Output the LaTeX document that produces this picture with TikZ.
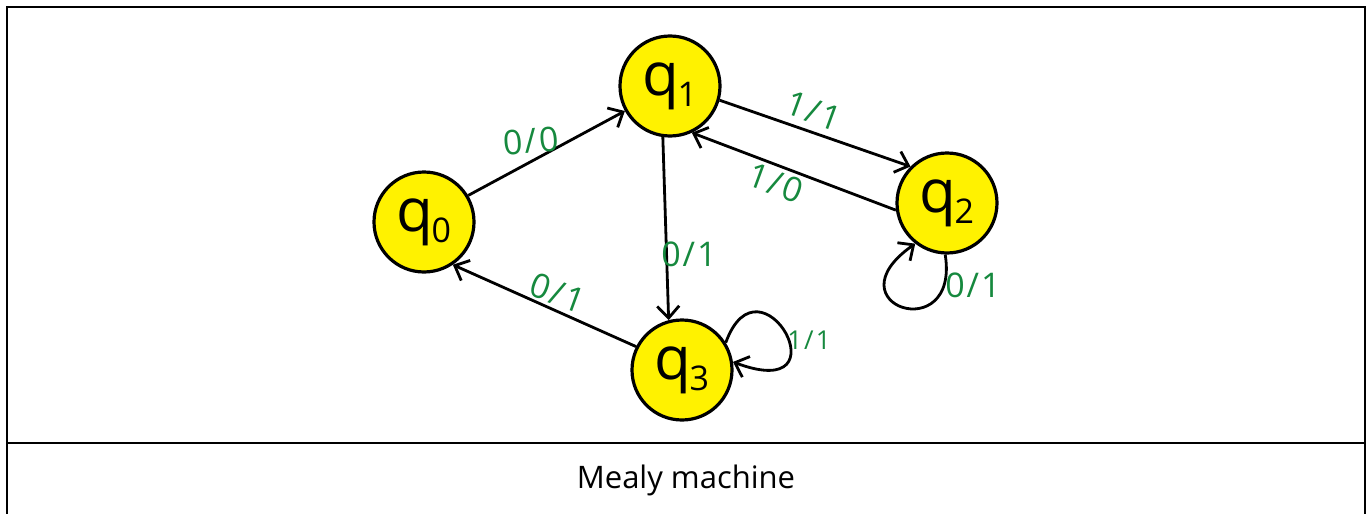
\documentclass[tikz,border=0pt]{standalone}
\usepackage{fontspec}
\setmainfont{Open Sans}
\usetikzlibrary{arrows.meta}
\definecolor{labelgreen}{RGB}{22,137,62}
\newcommand{\qsub}[1]{q\kern-2pt\raisebox{-11pt}{\fontsize{34}{34}\selectfont #1}}
% input/output pair with a little air round the slash
\newcommand{\io}[2]{#1\kern2pt/\kern2pt#2}
\begin{document}
\begin{tikzpicture}[x=1pt,y=-1pt,
  state/.style={circle, draw=black, fill=yellow, line width=3.2pt,
    minimum size=100pt, inner sep=0pt, font=\fontsize{60}{60}\selectfont},
  edge/.style={line width=2.8pt,
    -{Straight Barb[length=12pt,width=22pt,line width=2.8pt]}},
  lbl/.style={text=labelgreen, font=\fontsize{34}{34}\selectfont, inner sep=0pt},
  frame/.style={line width=2pt, draw=black}
]
\useasboundingbox (0,0) rectangle (1371,514);

% outer frame and caption row
\draw[frame] (7,530) -- (7,7) -- (1365,7) -- (1365,530);
\draw[frame] (7,443) -- (1365,443);
\node[font=\fontsize{31}{31}\selectfont] (cap) at (686,480) {Mealy machine};

% states
\node[state] (q0) at (424,222) {\qsub{0}};
\node[state] (q1) at (670,86)  {\qsub{1}};
\node[state] (q2) at (947,203) {\qsub{2}};
\node[state] (q3) at (682,370) {\qsub{3}};

% transitions
\draw[edge] (q0.31) -- (q1.209);
\draw[edge] (q1.262) -- (q3.105);
\draw[edge] (q3.153) -- (q0.-56);
\draw[edge] (q1.-16) -- (q2.135);
\draw[edge] (q2.188) -- (q1.-65);
\draw[edge] (q2.-92) .. controls (960,348) and (828,305) .. (q2.-128);
\draw[edge] (q3.32) .. controls (760,248) and (848,405) .. (q3.9);

% transition labels (input/output)
\node[lbl, rotate=5]   (l01) at (531,141) {\io{0}{0}};
\node[lbl]             (l13) at (689,254) {\io{0}{1}};
\node[lbl, rotate=-20] (l30) at (558,293) {\io{0}{1}};
\node[lbl, rotate=-20] (l12) at (814,111) {\io{1}{1}};
\node[lbl, rotate=-20] (l21) at (776,183) {\io{1}{0}};
\node[lbl]             (l22) at (973,285) {\io{0}{1}};
\node[lbl, font=\fontsize{26}{26}\selectfont] (l33) at (809,340) {\io{1}{1}};
\end{tikzpicture}
\end{document}
